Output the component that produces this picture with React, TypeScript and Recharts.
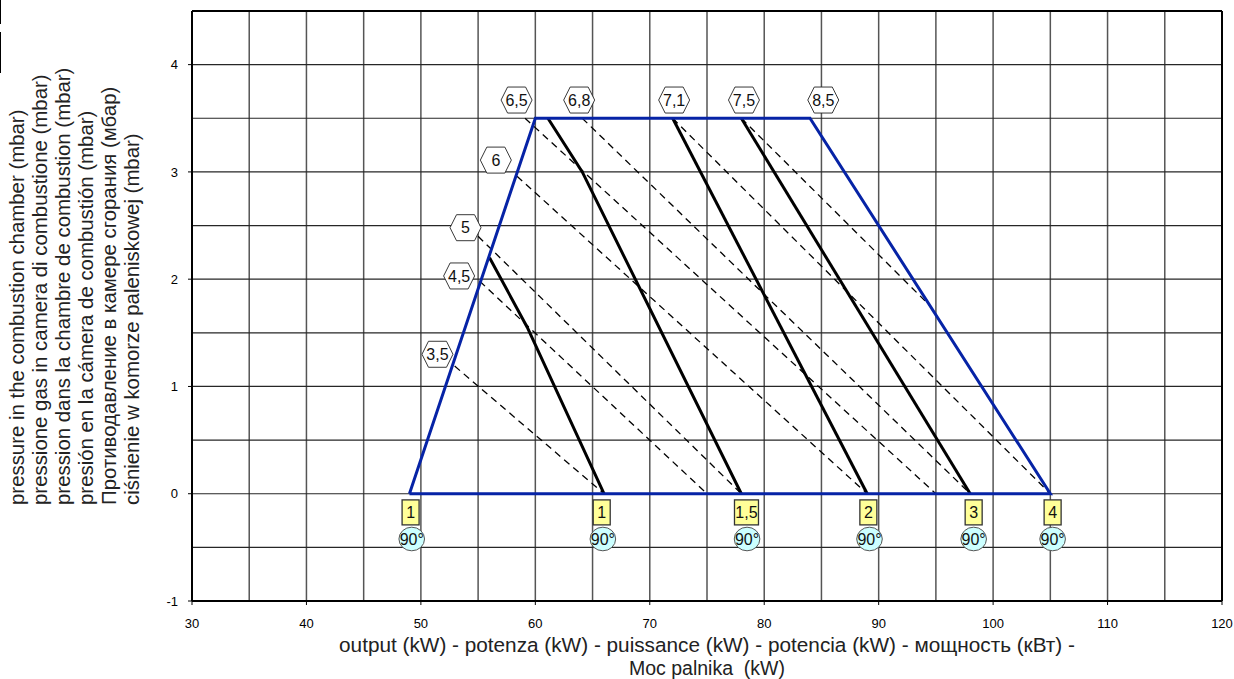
import React from 'react';
import { ComposedChart, Line, Scatter, XAxis, YAxis, CartesianGrid, ReferenceLine } from 'recharts';

const FONT = '"Liberation Sans", Arial, sans-serif';

// ticks and grid
const xTicks = [30, 40, 50, 60, 70, 80, 90, 100, 110, 120];
const yTicks = [-1, 0, 1, 2, 3, 4];
const gridX = [35, 40, 45, 50, 55, 60, 65, 70, 75, 80, 85, 90, 95, 100, 105, 110, 115];
const gridY = [-0.5, 0, 0.5, 1, 1.5, 2, 2.5, 3, 3.5, 4];

// working field (blue)
const workingField = [
  { x: 49, y: 0 },
  { x: 60, y: 3.5 },
  { x: 84, y: 3.5 },
  { x: 105, y: 0 },
  { x: 49, y: 0 },
];

// solid head-setting lines
const solidA = [{ x: 56, y: 2.2 }, { x: 59.3, y: 1.55 }, { x: 66, y: 0 }];
const solidB = [{ x: 61.1, y: 3.5 }, { x: 64.1, y: 3.0 }, { x: 78, y: 0 }];
const solidC = [{ x: 72, y: 3.5 }, { x: 89, y: 0 }];
const solidD = [{ x: 78, y: 3.5 }, { x: 98, y: 0 }];

// dashed lines
const dashed35 = [{ x: 52.95, y: 1.19 }, { x: 66, y: 0 }];
const dashed45 = [{ x: 55.15, y: 1.98 }, { x: 75, y: 0 }];
const dashed5 = [{ x: 55.0, y: 2.4 }, { x: 78, y: 0 }];
const dashed6 = [{ x: 58.4, y: 2.96 }, { x: 89, y: 0 }];
const dashed65 = [{ x: 59.1, y: 3.5 }, { x: 95, y: 0 }];
const dashed68 = [{ x: 64.1, y: 3.5 }, { x: 98, y: 0 }];
const dashed71 = [{ x: 72, y: 3.5 }, { x: 105, y: 0 }];
const dashed75 = [{ x: 78, y: 3.5 }, { x: 94.6, y: 1.74 }];

const dashedSeries = [dashed35, dashed45, dashed5, dashed6, dashed65, dashed68, dashed71, dashed75];
const solidSeries = [solidA, solidB, solidC, solidD];

// hexagon labels
const hexLabels = [
  { x: 51.45, y: 1.3, label: '3,5' },
  { x: 53.34, y: 2.03, label: '4,5' },
  { x: 53.9, y: 2.48, label: '5' },
  { x: 56.55, y: 3.11, label: '6' },
  { x: 58.36, y: 3.67, label: '6,5' },
  { x: 63.83, y: 3.67, label: '6,8' },
  { x: 72.13, y: 3.67, label: '7,1' },
  { x: 78.23, y: 3.67, label: '7,5' },
  { x: 85.16, y: 3.67, label: '8,5' },
];

// head position boxes and air damper circles
const headBoxes = [
  { x: 49.1, y: -0.174, label: '1' },
  { x: 65.8, y: -0.174, label: '1' },
  { x: 78.45, y: -0.174, label: '1,5' },
  { x: 89.1, y: -0.174, label: '2' },
  { x: 98.3, y: -0.174, label: '3' },
  { x: 105.2, y: -0.174, label: '4' },
];
const damperCircles = [
  { x: 49.2, y: -0.422, label: '90°' },
  { x: 65.9, y: -0.422, label: '90°' },
  { x: 78.5, y: -0.422, label: '90°' },
  { x: 89.2, y: -0.422, label: '90°' },
  { x: 98.3, y: -0.422, label: '90°' },
  { x: 105.2, y: -0.422, label: '90°' },
];

const yTitleLines = [
  'pressure in the combustion chamber (mbar)',
  'pressione gas in camera di combustione (mbar)',
  'pression dans la chambre de combustion (mbar)',
  'presión en la cámera de combustión (mbar)',
  'Противодавление в камере сгорания (мбар)',
  'ciśnienie w komorze paleniskowej (mbar)',
];
const xTitleLines = [
  'output (kW) - potenza (kW) - puissance (kW) - potencia (kW) - мощность (кВт) -',
  'Moc palnika  (kW)',
];

const HEX = [[-15.5, 0], [-9, -13], [9, -13], [15.5, 0], [9, 13], [-9, 13]];

const Hexagon = (props: any) => {
  const { cx, cy, payload } = props;
  if (cx == null || cy == null) return null;
  const pts = HEX.map((p) => `${cx + p[0]},${cy + p[1]}`).join(' ');
  return (
    <g>
      <polygon points={pts} fill="#fff" stroke="#222" strokeWidth={0.9} />
      <text x={cx} y={cy} dy="0.36em" textAnchor="middle" fontSize={16} fontFamily={FONT} fill="#111">
        {payload.label}
      </text>
    </g>
  );
};

const HeadBox = (props: any) => {
  const { cx, cy, payload } = props;
  if (cx == null || cy == null) return null;
  const w = payload.label.length > 1 ? 24 : 17;
  return (
    <g>
      <rect x={cx - w / 2} y={cy - 12.5} width={w} height={25} fill="#ffff99" stroke="#333" strokeWidth={1.3} />
      <text x={cx} y={cy} dy="0.36em" textAnchor="middle" fontSize={16} fontFamily={FONT} fill="#111">
        {payload.label}
      </text>
    </g>
  );
};

const DamperCircle = (props: any) => {
  const { cx, cy, payload } = props;
  if (cx == null || cy == null) return null;
  return (
    <g>
      <ellipse cx={cx} cy={cy} rx={12.8} ry={11.8} fill="#ccffff" stroke="#555" strokeWidth={1} />
      <text x={cx} y={cy} dy="0.36em" textAnchor="middle" fontSize={16} fontFamily={FONT} fill="#111">
        {payload.label}
      </text>
    </g>
  );
};

export default function App() {
  return (
    <div style={{ width: 1234, height: 679, padding: 8, boxSizing: 'border-box' }}>
      <style>{'body{margin:0}.recharts-surface{overflow:visible}'}</style>
      <div style={{ position: 'relative', width: 1218, height: 663 }}>
        <div style={{ position: 'absolute', left: -8, top: -8, width: 1, height: 24, background: '#000' }} />
        <div style={{ position: 'absolute', left: -8, top: 24, width: 1, height: 41, background: '#000' }} />
        <ComposedChart width={1218} height={663} margin={{ top: 3, right: 4, bottom: 40, left: 0 }}>
          <CartesianGrid horizontal={false} verticalValues={gridX} stroke="#555" strokeWidth={1.5} />
          <CartesianGrid vertical={false} horizontalValues={gridY} stroke="#262626" strokeWidth={1.2} />
          <XAxis
            type="number"
            dataKey="x"
            domain={[30, 120]}
            ticks={xTicks}
            interval={0}
            allowDataOverflow
            height={30}
            axisLine={{ stroke: '#000', strokeWidth: 2 }}
            tickLine={{ stroke: '#000' }}
            tickSize={4}
            tickMargin={14}
            tick={{ fontSize: 13, fontFamily: FONT, fill: '#000' }}
          />
          <YAxis
            type="number"
            dataKey="y"
            domain={[-1, 4.5]}
            ticks={yTicks}
            interval={0}
            allowDataOverflow
            width={184}
            axisLine={{ stroke: '#000', strokeWidth: 2 }}
            tickLine={{ stroke: '#000' }}
            tickSize={4}
            tickMargin={10}
            tick={{ fontSize: 13, fontFamily: FONT, fill: '#000' }}
          />
          <ReferenceLine y={4.5} stroke="#000" strokeWidth={2} />
          <ReferenceLine x={120} stroke="#000" strokeWidth={2} />
          {dashedSeries.map((d, i) => (
            <Line
              key={'d' + i}
              data={d}
              dataKey="y"
              type="linear"
              stroke="#000"
              strokeWidth={1.3}
              strokeDasharray="7 5"
              dot={false}
              activeDot={false}
              isAnimationActive={false}
            />
          ))}
          {solidSeries.map((d, i) => (
            <Line
              key={'s' + i}
              data={d}
              dataKey="y"
              type="linear"
              stroke="#000"
              strokeWidth={3}
              dot={false}
              activeDot={false}
              isAnimationActive={false}
            />
          ))}
          <Line
            data={workingField}
            dataKey="y"
            type="linear"
            stroke="#0623a6"
            strokeWidth={3}
            dot={false}
            activeDot={false}
            isAnimationActive={false}
          />
          <Scatter data={hexLabels} dataKey="y" shape={Hexagon} isAnimationActive={false} />
          <Scatter data={headBoxes} dataKey="y" shape={HeadBox} isAnimationActive={false} />
          <Scatter data={damperCircles} dataKey="y" shape={DamperCircle} isAnimationActive={false} />
        </ComposedChart>
        <svg
          width={1218}
          height={663}
          style={{ position: 'absolute', left: 0, top: 0, pointerEvents: 'none', overflow: 'visible' }}
        >
          {yTitleLines.map((t, i) => (
            <text
              key={i}
              transform={`translate(${16 + 22.9 * i},497) rotate(-90) scale(1.02,1)`}
              textAnchor="start"
              fontSize={20}
              fontFamily={FONT}
              fill="#222"
            >
              {t}
            </text>
          ))}
          {xTitleLines.map((t, i) => (
            <text
              key={i}
              transform={`translate(699,${643.7 + 23 * i}) scale(${i === 0 ? 1.065 : 1},1)`}
              textAnchor="middle"
              fontSize={19.5}
              fontFamily={FONT}
              fill="#222"
              style={{ whiteSpace: 'pre' }}
            >
              {t}
            </text>
          ))}
        </svg>
      </div>
    </div>
  );
}
